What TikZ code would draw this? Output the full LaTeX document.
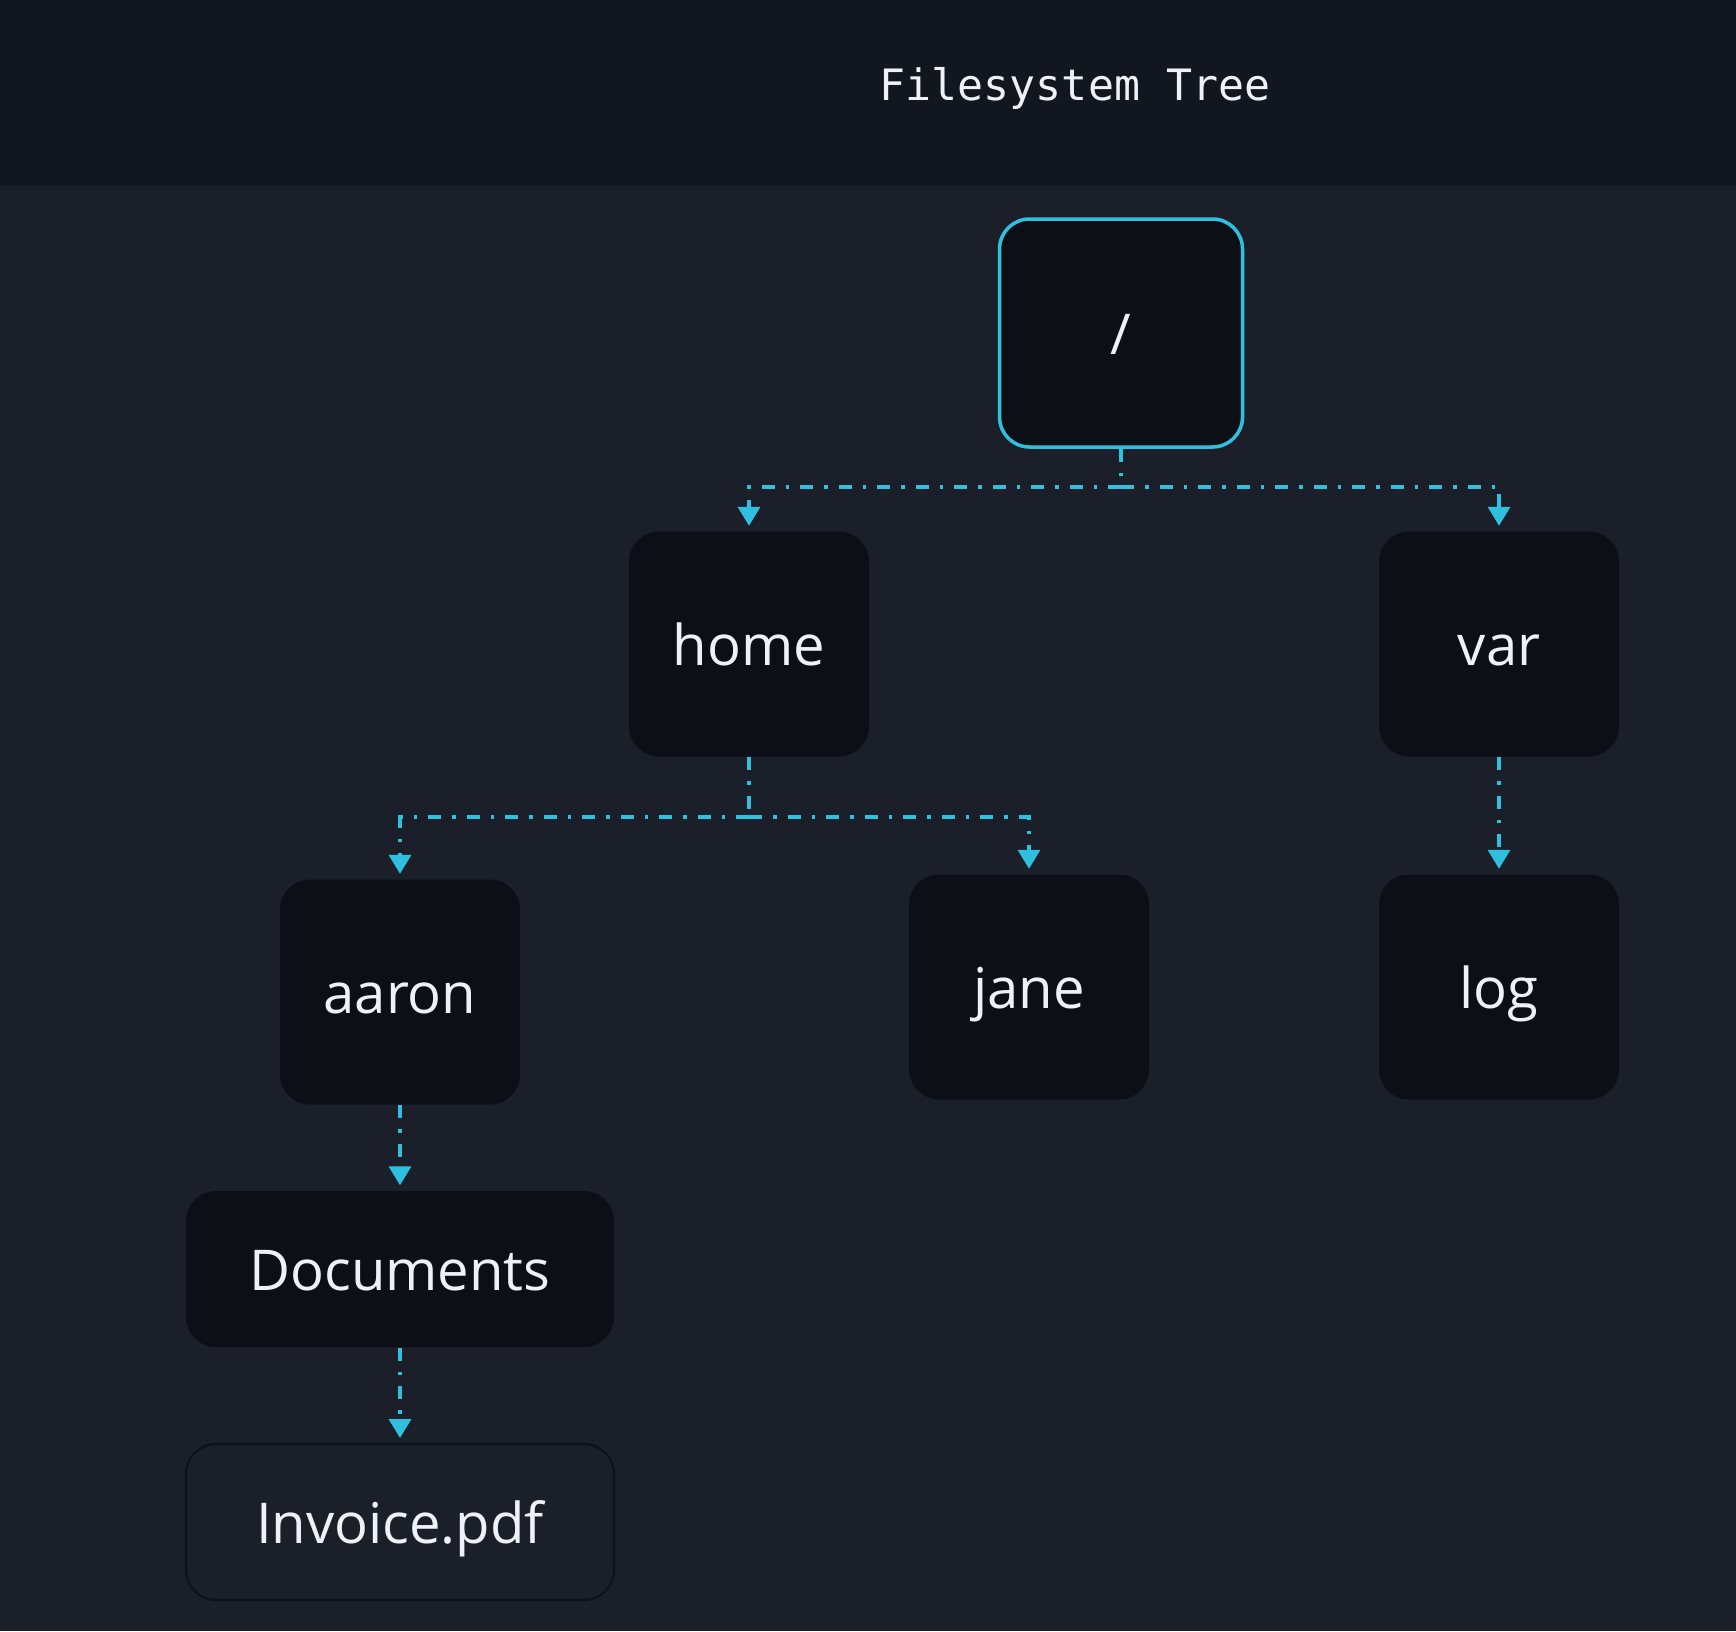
\documentclass[tikz,border=0pt]{standalone}
\usepackage{fontspec}
\setmainfont{Open Sans}
\newfontfamily\titlefont{DejaVu Sans Mono}
\newfontfamily\boxfont{Open Sans}
\usepackage{tikz}
\usetikzlibrary{arrows.meta}

\definecolor{headbg}{HTML}{12161E}
\definecolor{bodybg}{HTML}{1B1F2A}
\definecolor{boxfill}{HTML}{0C0F15}
\definecolor{boxline}{HTML}{0E1118}
\definecolor{linkcyan}{HTML}{2FC0E0}
\definecolor{textwhite}{HTML}{EEF1F6}

\tikzset{
  dirbox/.style={rounded corners=0.3cm, fill=boxfill, text=textwhite,
    minimum width=2.4cm, minimum height=2.25cm, text height=0.49cm, text depth=0.06cm,
    font=\boxfont\fontsize{16}{19}\selectfont},
  widebox/.style={dirbox, minimum width=4.28cm, minimum height=1.56cm},
  filebox/.style={widebox, fill=bodybg, draw=boxline, line width=0.02cm},
  rootbox/.style={dirbox, draw=linkcyan, line width=0.035cm,
    minimum width=2.43cm, minimum height=2.28cm},
  link/.style={draw=linkcyan, line width=0.035cm,
    dash pattern=on 0.13cm off 0.11cm on 0.035cm off 0.11cm,
    -{Triangle[width=0.22cm,length=0.19cm]}, shorten >=0.05cm}
}

\begin{document}
\begin{tikzpicture}
\tikzstyle{every node}+=[inner sep=0pt]
\useasboundingbox (0,0) rectangle (17.36,-16.31);
\fill [bodybg] (0,0) rectangle (17.36,-16.31);
\fill [headbg] (0,0) rectangle (17.36,-1.86);
\node [text=textwhite, font=\titlefont\fontsize{12.3}{14}\selectfont] (title) at (10.75,-0.88) {Filesystem Tree};
% directories
\node [rootbox] (root) at (11.21,-3.33) {/};
\node [dirbox] (home) at (7.49,-6.44) {home};
\node [dirbox] (var) at (14.99,-6.44) {var};
\node [dirbox] (aaron) at (4.00,-9.92) {aaron};
\node [dirbox] (jane) at (10.29,-9.87) {jane};
\node [dirbox] (log) at (14.99,-9.87) {log};
\node [widebox] (docs) at (4.00,-12.69) {Documents};
\node [filebox] (invoice) at (4.00,-15.22) {Invoice.pdf};
% links
\coordinate (rootfork) at (11.21,-4.87);
\coordinate (homefork) at (7.49,-8.17);
\draw [link, -] (root.south) -- (rootfork);
\draw [link] (rootfork) -| (home.north);
\draw [link] (rootfork) -| (var.north);
\draw [link, -] (home.south) -- (homefork);
\draw [link] (homefork) -| (aaron.north);
\draw [link] (homefork) -| (jane.north);
\draw [link] (var.south) -- (log.north);
\draw [link] (aaron.south) -- (docs.north);
\draw [link] (docs.south) -- (invoice.north);
\end{tikzpicture}
\end{document}
